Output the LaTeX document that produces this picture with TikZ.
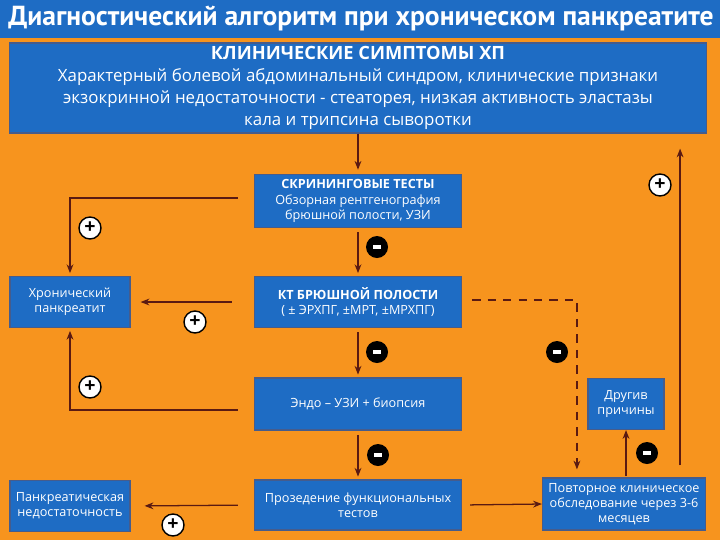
\documentclass[tikz,border=0pt]{standalone}
\usepackage{fontspec}
\setmainfont{Open Sans}
\newfontfamily\titlefont{PT Sans}
\usetikzlibrary{positioning,arrows.meta,calc}
\definecolor{bgorange}{RGB}{247,148,30}
\definecolor{boxblue}{RGB}{30,108,196}
\definecolor{boxedge}{RGB}{70,92,140}
\definecolor{arrowbrown}{RGB}{90,26,18}

\begin{document}
\begin{tikzpicture}[x=0.025cm, y=-0.025cm,
  box/.style={draw=boxedge, line width=0.8pt, fill=boxblue, text=white, align=center,
              inner sep=1pt, font=\fontsize{9}{10.8}\selectfont},
  bigbox/.style={box, font=\fontsize{12}{15.6}\selectfont},
  plus/.style={circle, draw=black, line width=1pt, fill=white, minimum size=0.55cm,
               inner sep=0pt, font=\bfseries\fontsize{14}{14}\selectfont},
  minus/.style={circle, fill=black, minimum size=0.55cm, inner sep=0pt},
  arr/.style={-{Stealth[length=2.2mm, width=1.7mm]}, line width=0.9pt, arrowbrown},
]

% --- background and title ---
\useasboundingbox (0,0) rectangle (720,540);
\fill[bgorange] (0,0) rectangle (720,540);
\fill[boxblue] (0,0) rectangle (720,38);
\node[anchor=west, text=white, inner sep=0pt, font=\titlefont\bfseries\fontsize{19.6}{22}\selectfont]
  (title) at (8,19) {Диагностический алгоритм при хроническом панкреатите};

% --- main column ---
\node[bigbox, minimum width=17.4cm, minimum height=2.25cm] (clin) at (358,88)
  {{\bfseries\fontsize{13}{15.6}\selectfont КЛИНИЧЕСКИЕ СИМПТОМЫ ХП}\\
   Характерный болевой абдоминальный синдром, клинические признаки\\
   экзокринной недостаточности - стеаторея, низкая активность эластазы\\
   кала и трипсина сыворотки};
\node[box, minimum width=5.175cm, minimum height=1.325cm] (scr) at (358,201)
  {\textbf{СКРИНИНГОВЫЕ ТЕСТЫ}\\Обзорная рентгенография\\брюшной полости, УЗИ};
\node[box, minimum width=5.175cm, minimum height=1.275cm] (kt) at (358,302)
  {\textbf{КТ БРЮШНОЙ ПОЛОСТИ}\\( ± ЭРХПГ, ±МРТ, ±МРХПГ)};
\node[box, minimum width=5.175cm, minimum height=1.3cm] (endo) at (358,404)
  {Эндо – УЗИ + биопсия};
\node[box, minimum width=5.175cm, minimum height=1.25cm] (proz) at (358,505)
  {Прозедение функциональных\\тестов};

% --- side boxes ---
\node[box, minimum width=3cm, minimum height=1.275cm] (chr) at (70,302)
  {Хронический\\панкреатит};
\node[box, minimum width=3cm, minimum height=1.275cm] (pank) at (70,506)
  {Панкреатическая\\недостаточность};
\node[box, minimum width=4.075cm, minimum height=1.3cm] (povt) at (624,504)
  {Повторное клиническое\\обследование через 3-6\\месяцев};
\node[box, minimum width=1.9cm, minimum height=1.275cm] (drug) at (626,404)
  {Другив\\причины};

% --- connectors ---
\draw[arr, shorten >=3pt] (clin.south) -- (scr.north);
\draw[arr, shorten <=3pt, shorten >=2pt] (scr.south) -- (kt.north);
\draw[arr, shorten <=3pt, shorten >=2pt] (kt.south) -- (endo.north);
\draw[arr, shorten <=3pt, shorten >=2pt] (endo.south) -- (proz.north);

\draw[arr, shorten <=0.4cm, shorten >=2pt] ([yshift=0.075cm]scr.west) -| (chr.north);
\draw[arr, shorten <=0.55cm, shorten >=0.25cm] (kt.west) -- (chr.east);
\draw[arr, shorten <=0.4cm, shorten >=2pt] ([yshift=-0.15cm]endo.west) -| (chr.south);
\draw[arr, shorten <=0.4cm, shorten >=0.35cm] (proz.west) -- (pank.east);
\draw[arr, shorten <=0.2cm] (proz.east) -- (povt.west);

\draw[arr, dashed, dash pattern=on 6pt off 5pt, shorten <=0.25cm, shorten >=0.2cm]
  ([yshift=0.05cm]kt.east) -| ([xshift=0.875cm]povt.north west);
\draw[arr, shorten <=1pt] (povt.north -| drug.south) -- (drug.south);
\draw[arr, shorten <=0.3cm, shorten >=0.375cm]
  ([xshift=-0.65cm]povt.north east) -- ([xshift=-0.65cm]povt.north east |- clin.south);

% --- signs ---
\node[plus] (p1) at (90,228) {+};
\node[plus] (p2) at (195,322) {+};
\node[plus] (p3) at (90,387) {+};
\node[plus] (p4) at (173,525) {+};
\node[plus] (p5) at (660,185) {+};
\node[minus] (m1) at (377,247) {\color{white}\rule{2mm}{1.2mm}};
\node[minus] (m2) at (377,352) {\color{white}\rule{2mm}{1.2mm}};
\node[minus] (m3) at (557,352) {\color{white}\rule{2mm}{1.2mm}};
\node[minus] (m4) at (378,455) {\color{white}\rule{2mm}{1.2mm}};
\node[minus] (m5) at (647,453) {\color{white}\rule{2mm}{1.2mm}};
\end{tikzpicture}
\end{document}
